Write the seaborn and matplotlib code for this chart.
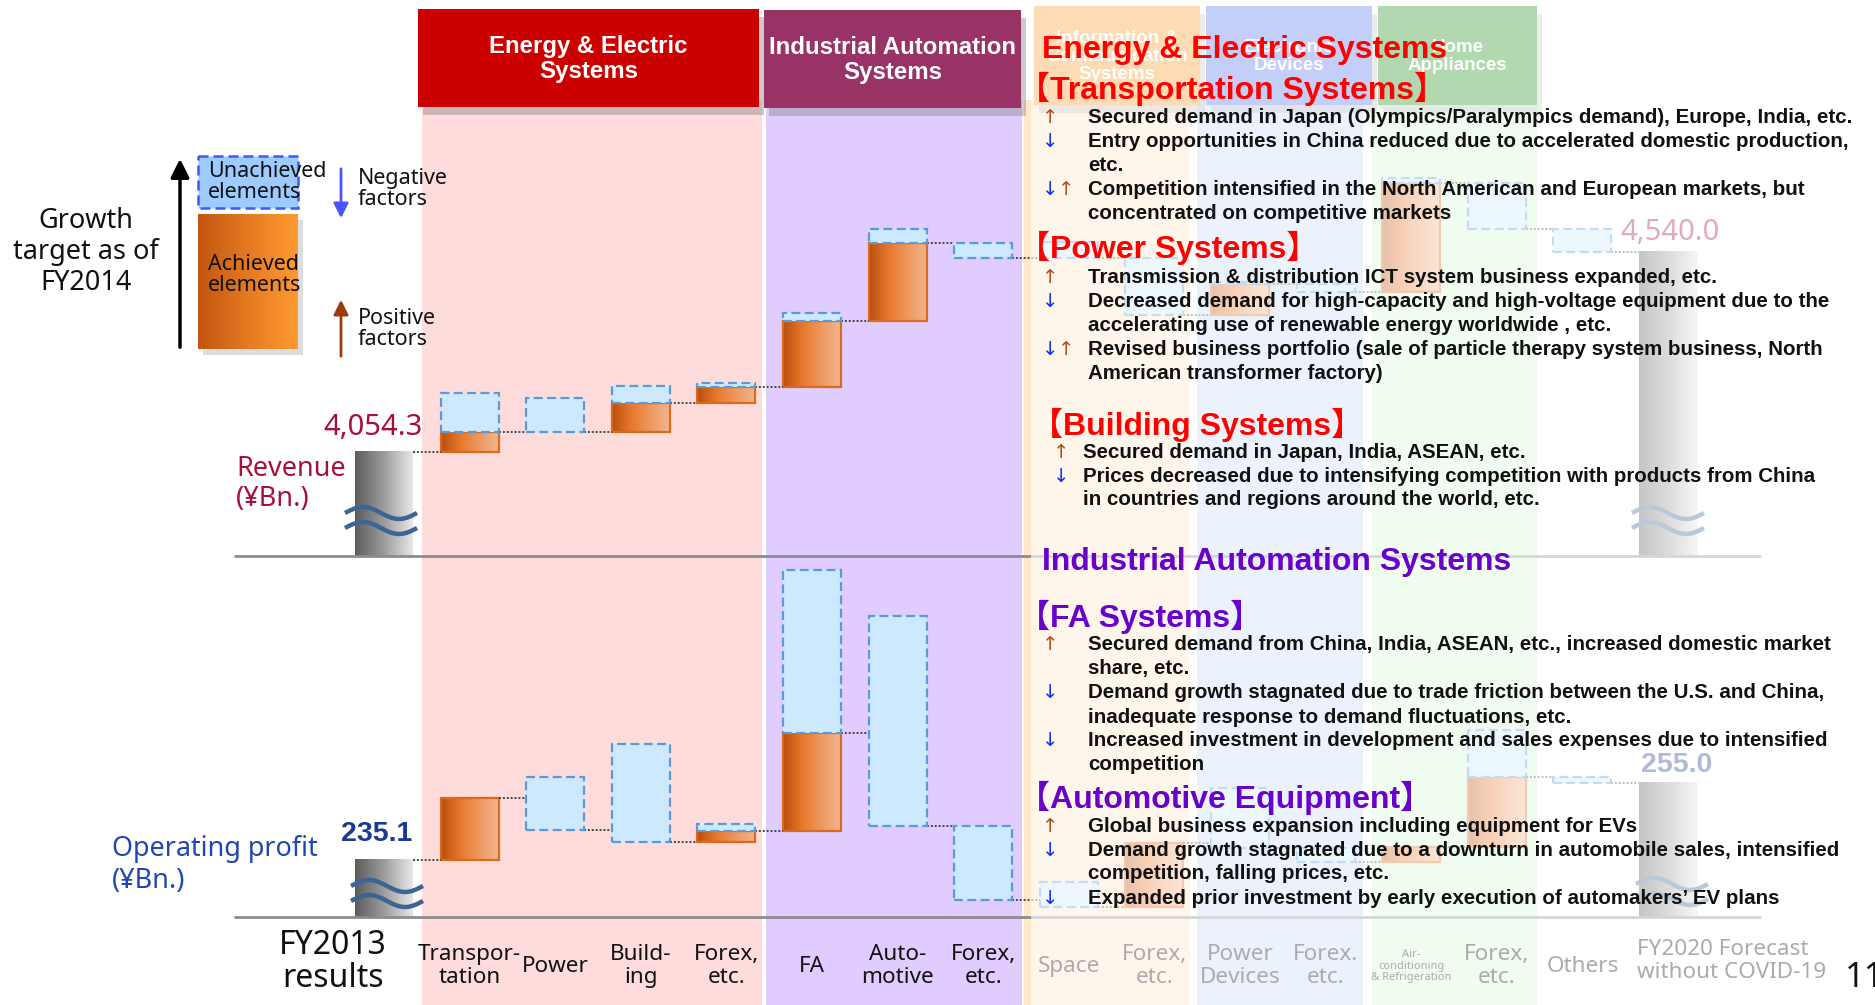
import numpy as np
import pandas as pd
import matplotlib
matplotlib.use("Agg")
import matplotlib.pyplot as plt
import seaborn as sns
from matplotlib.patches import Rectangle
from matplotlib.colors import LinearSegmentedColormap
from matplotlib.transforms import blended_transform_factory

# ---------------- data ----------------
categories = ["FY2013\nresults", "Transpor-\ntation", "Power", "Build-\ning", "Forex,\netc.",
              "FA", "Auto-\nmotive", "Forex,\netc.", "Space", "Forex,\netc.", "Power\nDevices",
              "Forex.\netc.", "Air-\nconditioning\n& Refrigeration", "Forex,\netc.", "Others",
              "FY2020 Forecast\nwithout COVID-19"]
segments = ["Energy & Electric\nSystems", "Industrial Automation\nSystems",
            "Information &\nCommunication\nSystems", "Electronic\nDevices", "Home\nAppliances"]

rev_start = 4054.3
rev_end = 4540.0
rev_achieved = [48.6, 0.0, 70.4, 38.9, 160.2, 189.5, -36.5, 0.0, -138.4, 75.3, -19.4, 264.7, -111.7, -55.9]
rev_target = [143.3, 82.5, 111.7, 48.6, 179.7, 223.5, 0.0, 38.9, 0.0, 80.1, 0.0, 276.8, 0.0, 0.0]

op_start = 235.1
op_end = 255.0
op_achieved = [16.0, -8.25, -3.1, 2.85, 25.3, -24.0, -19.15, -1.8, 16.55, -1.3, -3.6, 3.9, 18.05, -1.55]
op_target = [16.0, 5.45, 22.25, 4.65, 67.4, 30.25, 0.0, 4.65, 16.55, 14.2, 0.0, 3.9, 30.2, 0.0]

# ---------------- style ----------------
sns.set_theme(style="white")
plt.rcParams['font.family'] = ['Noto Sans', 'DejaVu Sans', 'Noto Sans CJK JP']
FONT_B = ['Liberation Sans', 'DejaVu Sans', 'Noto Sans CJK JP']

W, H = 1875, 1005
fig = plt.figure(figsize=(W / 100, H / 100), dpi=100)

X0_PX, STEP_PX = 384.0, 85.6
XLIM = (-X0_PX / STEP_PX, (W - X0_PX) / STEP_PX)
BW = 58 / STEP_PX
REV_YLIM = (3801.74, 4865.4)
OP_YLIM = (220.37, 313.65)

ORANGE_EDGE = '#dc6a1c'
BLUE_FILL = '#cce9fd'
BLUE_EDGE = '#5b9ad8'
RED = '#ff0000'
PURPLE = '#6a00cc'
CRIMSON = '#a8103c'
OPBLUE = '#1f47ae'

orange_cmap = LinearSegmentedColormap.from_list('o', ['#b84e0e', '#e8782c', '#ee9860', '#f2b690'])
gray_cmap = LinearSegmentedColormap.from_list('g', ['#5c5c5c', '#9c9c9c', '#e8e8e8'])
legend_cmap = LinearSegmentedColormap.from_list('lo', ['#c2560f', '#e57a22', '#ff9a30'])
grad = np.linspace(0, 1, 256).reshape(1, -1)


def px_axes(z):
    ax = fig.add_axes([0, 0, 1, 1], zorder=z)
    ax.set_xlim(0, W)
    ax.set_ylim(H, 0)
    ax.axis('off')
    ax.patch.set_alpha(0)
    ax.set_autoscale_on(False)
    return ax


def data_axes(top_px, bot_px, ylim, z):
    ax = fig.add_axes([0, 1 - bot_px / H, 1, (bot_px - top_px) / H], zorder=z)
    ax.set_xlim(*XLIM)
    ax.set_ylim(*ylim)
    ax.axis('off')
    ax.patch.set_alpha(0)
    ax.set_autoscale_on(False)
    return ax


ax_bg = px_axes(0)
ax_rev = data_axes(118, 556, REV_YLIM, 1)
ax_op = data_axes(556, 917, OP_YLIM, 1)
ax_fg = px_axes(2)
ax_top = px_axes(3)

# ---------------- background columns & headers ----------------
cols = [(422, 340, '#ffdcdc'), (766, 256, '#e0ccff'), (1024, 166, '#ffe8c8'),
        (1197, 166, '#c6daf9'), (1372, 165, '#d4f9d4')]
for x, w, c in cols:
    ax_bg.add_patch(Rectangle((x, 100), w, 905, fc=c, ec='none', zorder=1))

heads = [(418, 9, 341, 98, '#cc0000', 17.3), (764, 10, 257, 98, '#993366', 17.3),
         (1034, 6, 166, 99, '#f99b2c', 13.5), (1206, 6, 166, 99, '#5476ee', 13.5),
         (1378, 6, 159, 99, '#26921d', 13.5)]
for (x, y, w, h, c, fs), label in zip(heads, segments):
    ax_bg.add_patch(Rectangle((x + 5, y + 8), w, h, fc='#8c8c8c', ec='none', alpha=0.45, zorder=2))
    ax_bg.add_patch(Rectangle((x, y), w, h, fc=c, ec='none', zorder=3))
    ax_bg.text(x + w / 2, y + h / 2 + 1, label, color='white', fontsize=fs, fontweight='bold',
               family=FONT_B, ha='center', va='center', linespacing=1.1, zorder=4)

# ---------------- legend (left) ----------------
ax_bg.add_patch(Rectangle((203, 220), 100, 135, fc='#909090', ec='none', alpha=0.3, zorder=2))
ax_bg.imshow(grad, extent=[198, 298, 349, 214], cmap=legend_cmap, aspect='auto', zorder=3)
ax_bg.add_patch(Rectangle((198, 156), 100, 52, fc='#9dcbff', ec='#3c5cf0', ls=(0, (4, 2)), lw=1.8, zorder=3))
ax_bg.annotate('', xy=(180, 156), xytext=(180, 350),
               arrowprops=dict(arrowstyle='-|>', color='black', lw=2.5, mutation_scale=28), zorder=3)
ax_bg.annotate('', xy=(341, 221), xytext=(341, 166),
               arrowprops=dict(arrowstyle='-|>', color='#4a55ff', lw=2, mutation_scale=22), zorder=3)
ax_bg.annotate('', xy=(341, 297), xytext=(341, 359),
               arrowprops=dict(arrowstyle='-|>', color='#9c3c0c', lw=2, mutation_scale=22), zorder=3)
for x, y, s in [(208, 182, "Unachieved\nelements"), (208, 275, "Achieved\nelements"),
                (358, 189, "Negative\nfactors"), (358, 329, "Positive\nfactors")]:
    ax_bg.text(x, y, s, fontsize=15.5, ha='left', va='center', linespacing=0.95,
               color='#111111', zorder=4)
ax_bg.text(86, 252, "Growth\ntarget as of\nFY2014", fontsize=19.5, ha='center', va='center',
           linespacing=1.15, color='#111111', zorder=4)


# ---------------- waterfall ----------------
def build(start, ach, tgt):
    rows, level = [], start
    for i, (a, t) in enumerate(zip(ach, tgt), start=1):
        rows.append(dict(x=i, start=level, achieved=level + a, target=level + t))
        level += a
    return pd.DataFrame(rows), level


def draw_waterfall(ax, start, end, ach, tgt, base):
    df, last = build(start, ach, tgt)
    n = len(ach)
    for x, top in [(0, start), (n + 1, end)]:
        ax.imshow(grad, extent=[x - BW / 2, x + BW / 2, base, top], cmap=gray_cmap,
                  aspect='auto', zorder=2, interpolation='bilinear')
    for r in df.itertuples():
        if r.achieved > r.start:
            ax.imshow(grad, extent=[r.x - BW / 2, r.x + BW / 2, r.start, r.achieved],
                      cmap=orange_cmap, aspect='auto', zorder=2, interpolation='bilinear')
            ax.add_patch(Rectangle((r.x - BW / 2, r.start), BW, r.achieved - r.start,
                                   fill=False, ec=ORANGE_EDGE, lw=1.6, zorder=3))
        if abs(r.target - r.achieved) > 1e-9:
            lo = min(r.target, r.achieved)
            ax.add_patch(Rectangle((r.x - BW / 2, lo), BW, abs(r.target - r.achieved),
                                   fc=BLUE_FILL, ec=BLUE_EDGE, ls=(0, (4, 2)), lw=1.6, zorder=4))
        ax.plot([r.x - 1 + BW / 2, r.x - BW / 2], [r.start, r.start], ls=(0, (1, 1)),
                color='#444444', lw=1.4, zorder=3)
    ax.plot([n + BW / 2, n + 1 - BW / 2], [last, last], ls=(0, (1, 1)), color='#444444', lw=1.4, zorder=3)
    ax.set_xlim(*XLIM)


draw_waterfall(ax_rev, rev_start, rev_end, rev_achieved, rev_target, REV_YLIM[0])
ax_rev.set_ylim(*REV_YLIM)
draw_waterfall(ax_op, op_start, op_end, op_achieved, op_target, OP_YLIM[0])
ax_op.set_ylim(*OP_YLIM)


# ---------------- axis breaks / baselines ----------------
def wave(ax, xc, yc, width, amp, color, lw):
    t = np.linspace(0, 1, 80)
    ax.plot(xc - width / 2 + width * t, yc - amp * np.sin(2 * np.pi * t), color=color, lw=lw,
            solid_capstyle='butt', zorder=5)


for xc, yc in [(381, 513), (1668, 513), (387, 886), (1672, 884)]:
    wave(ax_fg, xc, yc, 72, 6, '#3c6494', 3.2)
    wave(ax_fg, xc, yc + 15, 72, 6, '#3c6494', 3.2)

for yb in (556, 917):
    ax_fg.plot([235, 1760], [yb, yb], color='#8c8c8c', lw=2, zorder=4)

# ---------------- value labels ----------------
ax_fg.text(423, 427, f"{rev_start:,.1f}", color=CRIMSON, fontsize=21, ha='right', va='center')
ax_fg.text(236, 484, "Revenue\n(¥Bn.)", color=CRIMSON, fontsize=19.5, ha='left', va='center',
           linespacing=1.1)
ax_fg.text(412, 834, f"{op_start:,.1f}", color='#1b3a94', fontsize=20.5, fontweight='bold',
           family=FONT_B, ha='right', va='center')
ax_fg.text(112, 865, "Operating profit\n(¥Bn.)", color=OPBLUE, fontsize=19.4, ha='left', va='center',
           linespacing=1.15)
ax_fg.text(1620, 232, f"{rev_end:,.1f}", color=CRIMSON, fontsize=21, ha='left', va='center')
ax_fg.text(1641, 765, f"{op_end:,.1f}", color='#1b3a94', fontsize=20.5, fontweight='bold',
           family=FONT_B, ha='left', va='center')

# ---------------- category labels ----------------
lab_tr = blended_transform_factory(ax_op.transData, ax_bg.transData)
for i, lab in enumerate(categories):
    x, ha, fs, ys, lsp = i, 'center', 16.2, 966, 1.12
    if i == 0:
        x, fs, ys, lsp = i - 0.6, 23, 962, 1.0
    elif i == 15:
        x, ha, ys = i - 0.36, 'left', 961
    elif i == 12:
        fs, lsp = 8, 1.05
    ax_bg.text(x, ys, lab, transform=lab_tr, ha=ha, va='center', fontsize=fs,
               linespacing=lsp, color='#111111', zorder=5)

# ---------------- fading overlay ----------------
ax_top.add_patch(Rectangle((1031, 0), 1842 - 1031, H, fc='white', ec='none', alpha=0.65, zorder=1))
ax_top.text(1845, 978, "11", fontsize=25, ha='left', va='center', color='#111111', zorder=5)

# ---------------- commentary text ----------------
UP, DN = '#b0501a', '#1030ff'


def heading(x, y, s, color):
    ax_top.text(x, y, s, fontsize=23, fontweight='bold', family=FONT_B, color=color,
                ha='left', va='center', zorder=5)


def bullet(y, s, arrows=None, xa=1042, xt=1088):
    if arrows:
        for k, a in enumerate(arrows):
            ax_top.text(xa + 16 * k, y, a, fontsize=14, color=UP if a == '↑' else DN,
                        family=['DejaVu Sans'], ha='left', va='center', zorder=5)
    ax_top.text(xt, y, s, fontsize=14.8, fontweight='bold', family=FONT_B, color='#111111',
                ha='left', va='center', zorder=5)


heading(1042, 50, "Energy & Electric Systems", RED)
heading(1018, 89, "【Transportation Systems】", RED)
bullet(117, "Secured demand in Japan (Olympics/Paralympics demand), Europe, India, etc.", "↑")
bullet(141, "Entry opportunities in China reduced due to accelerated domestic production,", "↓")
bullet(165, "etc.")
bullet(189, "Competition intensified in the North American and European markets, but", "↓↑")
bullet(213, "concentrated on competitive markets")
heading(1018, 248, "【Power Systems】", RED)
bullet(277, "Transmission & distribution ICT system business expanded, etc.", "↑")
bullet(301, "Decreased demand for high-capacity and high-voltage equipment due to the", "↓")
bullet(325, "accelerating use of renewable energy worldwide , etc.")
bullet(349, "Revised business portfolio (sale of particle therapy system business, North", "↓↑")
bullet(373, "American transformer factory)")
heading(1031, 425, "【Building Systems】", RED)
bullet(452, "Secured demand in Japan, India, ASEAN, etc.", "↑", xa=1053, xt=1083)
bullet(476, "Prices decreased due to intensifying competition with products from China", "↓", xa=1053, xt=1083)
bullet(499, "in countries and regions around the world, etc.", xt=1083)
heading(1042, 562, "Industrial Automation Systems", PURPLE)
heading(1018, 617, "【FA Systems】", PURPLE)
bullet(644, "Secured demand from China, India, ASEAN, etc., increased domestic market", "↑")
bullet(668, "share, etc.")
bullet(692, "Demand growth stagnated due to trade friction between the U.S. and China,", "↓")
bullet(717, "inadequate response to demand fluctuations, etc.")
bullet(740, "Increased investment in development and sales expenses due to intensified", "↓")
bullet(764, "competition")
heading(1018, 798, "【Automotive Equipment】", PURPLE)
bullet(826, "Global business expansion including equipment for EVs", "↑")
bullet(850, "Demand growth stagnated due to a downturn in automobile sales, intensified", "↓")
bullet(873, "competition, falling prices, etc.")
bullet(898, "Expanded prior investment by early execution of automakers’ EV plans", "↓")

fig.savefig("out.png", dpi=100)
